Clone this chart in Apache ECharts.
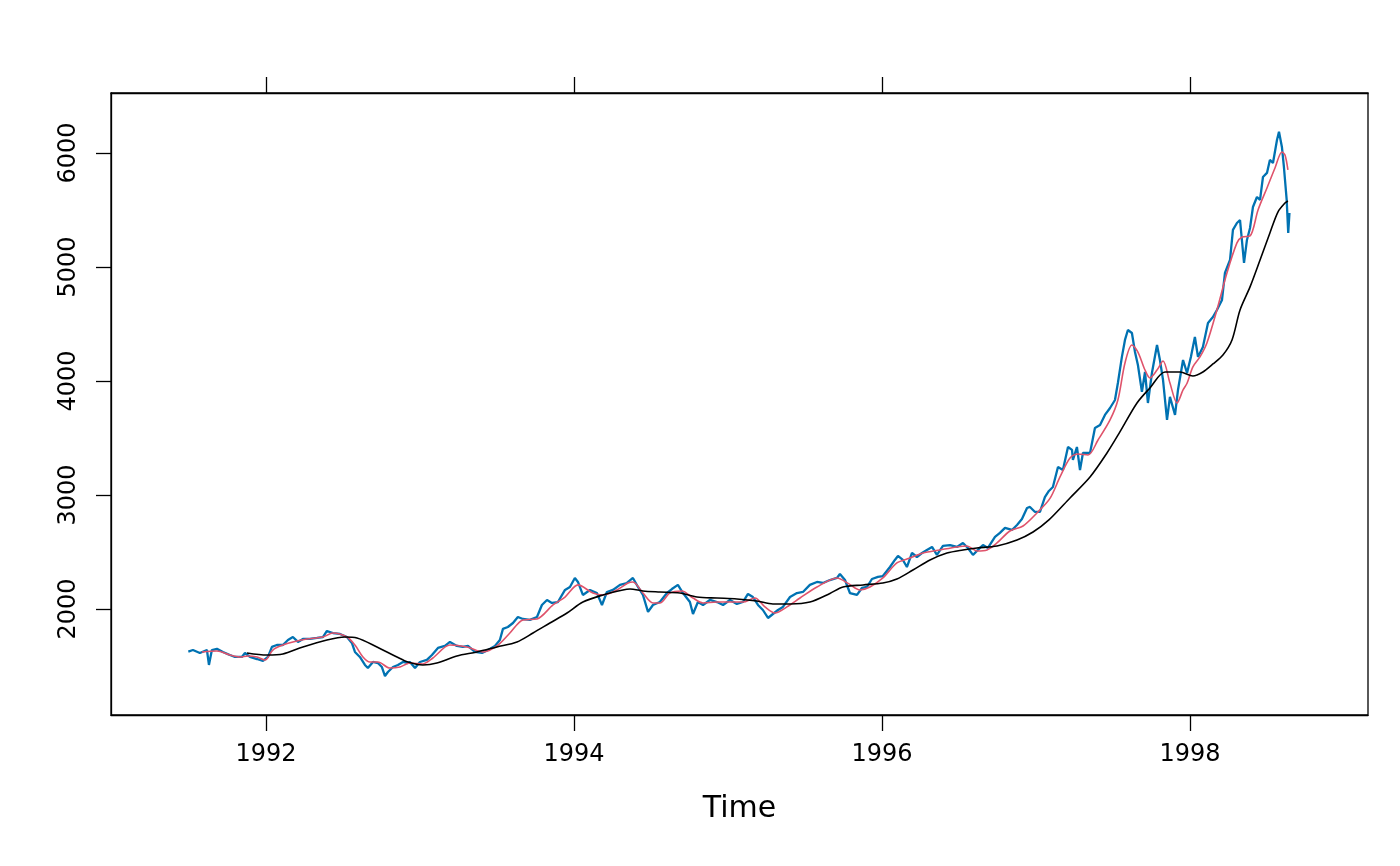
<!DOCTYPE html>
<html>
<head>
<meta charset="utf-8">
<script src="https://cdn.jsdelivr.net/npm/echarts@6/dist/echarts.min.js"></script>
<style>
html,body{margin:0;padding:0;background:#fff;}
#chart{width:1400px;height:866px;}
</style>
</head>
<body>
<div id="chart"></div>
<script>
// DAX closing prices
const daxTime = [1991.496,1991.526,1991.571,1991.617,1991.630,1991.649,1991.682,1991.721,1991.766,1991.799,1991.844,1991.864,1991.896,1991.942,1991.981,
1992.013,1992.039,1992.071,1992.110,1992.143,1992.175,1992.208,1992.240,1992.286,1992.331,1992.370,1992.396,1992.435,1992.481,1992.526,1992.558,1992.578,1992.610,1992.643,1992.662,1992.695,1992.727,1992.753,1992.773,1992.792,1992.825,1992.857,1992.890,1992.922,1992.935,1992.968,
1993.000,1993.045,1993.078,1993.117,1993.162,1993.195,1993.240,1993.279,1993.312,1993.357,1993.403,1993.442,1993.487,1993.519,1993.539,1993.571,1993.604,1993.636,1993.669,1993.714,1993.760,1993.792,1993.825,1993.857,1993.896,1993.942,1993.974,
1994.006,1994.026,1994.058,1994.104,1994.149,1994.182,1994.214,1994.253,1994.299,1994.344,1994.383,1994.416,1994.448,1994.481,1994.513,1994.558,1994.604,1994.636,1994.675,1994.708,1994.753,1994.773,1994.805,1994.838,1994.883,1994.929,1994.968,
1995.013,1995.058,1995.097,1995.130,1995.162,1995.195,1995.227,1995.260,1995.292,1995.325,1995.357,1995.403,1995.448,1995.487,1995.532,1995.578,1995.617,1995.662,1995.708,1995.727,1995.760,1995.792,1995.838,1995.870,1995.903,1995.935,1995.974,
1996.006,1996.052,1996.084,1996.104,1996.136,1996.162,1996.195,1996.227,1996.260,1996.292,1996.325,1996.357,1996.396,1996.442,1996.487,1996.526,1996.558,1996.591,1996.623,1996.656,1996.688,1996.734,1996.766,1996.799,1996.844,1996.877,1996.909,1996.942,1996.961,1996.994,
1997.026,1997.058,1997.084,1997.110,1997.143,1997.175,1997.208,1997.234,1997.240,1997.266,1997.286,1997.305,1997.351,1997.383,1997.416,1997.448,1997.481,1997.513,1997.532,1997.558,1997.578,1997.597,1997.623,1997.643,1997.662,1997.688,1997.708,1997.727,1997.753,1997.786,1997.805,1997.825,1997.851,1997.870,1997.903,1997.922,1997.955,1997.981,
1998.006,1998.032,1998.052,1998.084,1998.117,1998.149,1998.175,1998.208,1998.227,1998.260,1998.279,1998.305,1998.325,1998.351,1998.370,1998.390,1998.409,1998.435,1998.455,1998.474,1998.500,1998.519,1998.539,1998.565,1998.578,1998.597,1998.610,1998.628,1998.638,1998.646];
const daxValue = [1626,1640,1614,1640,1509,1640,1650,1623,1596,1579,1579,1614,1579,1561,1544,
1579,1667,1684,1684,1728,1754,1711,1737,1737,1746,1754,1807,1789,1781,1754,1702,1623,1579,1509,1482,1535,1526,1491,1412,1447,1491,1509,1535,1526,1535,1482,
1535,1553,1596,1658,1676,1711,1676,1667,1676,1623,1614,1640,1676,1728,1825,1842,1877,1930,1912,1904,1930,2035,2079,2053,2061,2167,2193,
2272,2237,2123,2167,2140,2035,2149,2167,2211,2228,2272,2193,2123,1974,2035,2061,2140,2175,2211,2140,2061,1956,2061,2035,2079,2061,2035,
2079,2044,2061,2132,2105,2035,1991,1921,1956,1991,2018,2105,2140,2149,2211,2237,2228,2254,2272,2307,2254,2140,2123,2184,2193,2263,2281,
2289,2368,2430,2465,2430,2368,2491,2456,2491,2518,2544,2474,2553,2561,2544,2579,2535,2474,2518,2561,2535,2632,2667,2711,2693,2737,2789,2886,2895,2851,
2851,2982,3035,3070,3246,3219,3421,3395,3307,3421,3219,3368,3368,3588,3614,3702,3763,3833,3982,4211,4360,4447,4421,4254,4140,3904,4079,3807,4070,4316,4184,4009,3658,3860,3702,3920,4184,4070,
4211,4386,4211,4298,4509,4561,4623,4711,4947,5061,5325,5386,5412,5035,5237,5342,5526,5614,5588,5789,5825,5939,5912,6114,6186,6053,5877,5588,5298,5474];

// Short moving average (red)
const fastTime = [1991.584,1991.682,1991.766,1991.831,1991.883,1991.942,1991.994,1992.045,1992.110,1992.175,1992.266,1992.370,1992.435,1992.526,1992.578,1992.630,1992.675,1992.727,1992.805,1992.870,1992.935,
1993.019,1993.084,1993.195,1993.305,1993.409,1993.500,1993.584,1993.669,1993.760,1993.864,1993.942,1994.026,1994.123,1994.188,1994.279,1994.351,1994.383,1994.448,1994.513,1994.558,1994.623,1994.701,1994.773,1994.838,1994.929,
1995.013,1995.097,1995.175,1995.240,1995.305,1995.383,1995.468,1995.578,1995.708,1995.786,1995.857,1995.922,1996.006,1996.097,1996.182,1996.266,1996.377,1996.487,1996.552,1996.617,1996.682,1996.747,1996.831,1996.916,
1997.006,1997.091,1997.156,1997.221,1997.273,1997.338,1997.403,1997.481,1997.532,1997.578,1997.623,1997.662,1997.708,1997.740,1997.786,1997.825,1997.870,1997.916,1997.955,1997.981,1998.019,1998.065,1998.110,1998.175,1998.240,1998.305,1998.338,1998.390,1998.442,1998.500,1998.552,1998.597,1998.617,1998.636];
const fastValue = [1623,1632,1596,1579,1588,1579,1553,1640,1684,1711,1737,1754,1789,1754,1684,1579,1535,1535,1482,1491,1526,
1518,1570,1684,1667,1623,1676,1789,1904,1912,2035,2105,2211,2140,2123,2167,2228,2237,2140,2053,2053,2140,2158,2096,2053,2061,
2061,2061,2096,2018,1965,2018,2096,2193,2272,2220,2167,2193,2272,2404,2447,2491,2518,2544,2553,2509,2518,2579,2684,2728,
2842,2970,3158,3325,3360,3351,3482,3658,3833,4158,4316,4254,4096,4026,4096,4175,3982,3807,3921,3980,4123,4211,4333,4623,4947,5211,5263,5272,5500,5693,5868,6009,5982,5851];

// Long moving average (black)
const slowTime = [1991.877,1992.006,1992.110,1992.240,1992.396,1992.513,1992.591,1992.721,1992.851,1992.922,
1993.019,1993.110,1993.240,1993.370,1993.500,1993.630,1993.734,1993.844,1993.955,1994.058,1994.188,1994.318,1994.364,1994.448,1994.558,1994.688,1994.799,1994.929,
1995.058,1995.188,1995.292,1995.403,1995.532,1995.662,1995.747,1995.877,1996.006,1996.097,1996.201,1996.312,1996.422,1996.526,1996.617,1996.747,1996.877,1996.981,
1997.084,1997.221,1997.351,1997.461,1997.545,1997.656,1997.740,1997.838,1997.935,1998.019,1998.084,1998.149,1998.214,1998.273,1998.325,1998.390,1998.455,1998.519,1998.571,1998.617,1998.636];
const slowValue = [1614,1596,1605,1667,1728,1754,1746,1667,1579,1535,
1509,1526,1588,1623,1667,1711,1789,1877,1965,2061,2123,2167,2175,2158,2149,2140,2105,2096,
2088,2070,2044,2044,2061,2136,2193,2211,2228,2263,2342,2430,2491,2518,2535,2553,2605,2675,
2781,2974,3158,3368,3553,3807,3939,4079,4079,4044,4079,4149,4228,4360,4623,4825,5061,5298,5482,5561,5579];

const xTicks = [1992, 1994, 1996, 1998];
const yTicks = [2000, 3000, 4000, 5000, 6000];

function pairs(t, v) { return t.map((x, i) => [x, v[i]]); }

const FONT = 'DejaVu Sans';
const chart = echarts.init(document.getElementById('chart'), null, {renderer: 'canvas'});
chart.setOption({
  animation: false,
  backgroundColor: '#ffffff',
  grid: {left: 111, right: 32, top: 93, bottom: 151, show: true, borderColor: '#000', borderWidth: 1.3, backgroundColor: 'transparent'},
  xAxis: [{
    type: 'value', min: 1990.994, max: 1999.156, position: 'bottom',
    name: 'Time', nameLocation: 'middle', nameGap: 79,
    nameTextStyle: {fontFamily: FONT, fontSize: 30, color: '#000'},
    axisLine: {show: true, lineStyle: {color: '#000', width: 1.3}},
    axisTick: {show: true, length: 16, lineStyle: {color: '#000', width: 1.3}, customValues: xTicks},
    axisLabel: {show: true, margin: 28, fontFamily: FONT, fontSize: 24, color: '#000', customValues: xTicks, formatter: v => String(v)},
    splitLine: {show: false}
  }, {
    type: 'value', min: 1990.994, max: 1999.156, position: 'top',
    axisLine: {show: true, lineStyle: {color: '#000', width: 1.3}},
    axisTick: {show: true, length: 16, lineStyle: {color: '#000', width: 1.3}, customValues: xTicks},
    axisLabel: {show: false, customValues: xTicks},
    splitLine: {show: false}
  }],
  yAxis: [{
    type: 'value', min: 1070, max: 6526, position: 'left',
    axisLine: {show: true, lineStyle: {color: '#000', width: 1.3}},
    axisTick: {show: true, length: 15, lineStyle: {color: '#000', width: 1.3}, customValues: yTicks},
    axisLabel: {show: true, rotate: 90, margin: 30, fontFamily: FONT, fontSize: 24, color: '#000', customValues: yTicks, formatter: v => String(v)},
    splitLine: {show: false}
  }],
  series: [{
    type: 'line', xAxisIndex: 0, yAxisIndex: 0, data: pairs(daxTime, daxValue),
    showSymbol: false, symbol: 'none', lineStyle: {color: '#0072B2', width: 2.3}, z: 2
  }, {
    type: 'line', xAxisIndex: 0, yAxisIndex: 0, data: pairs(fastTime, fastValue), smooth: 0.3,
    showSymbol: false, symbol: 'none', lineStyle: {color: '#DF536B', width: 1.6}, z: 3
  }, {
    type: 'line', xAxisIndex: 0, yAxisIndex: 0, data: pairs(slowTime, slowValue), smooth: 0.3,
    showSymbol: false, symbol: 'none', lineStyle: {color: '#000000', width: 1.6}, z: 4
  }]
});
</script>
</body>
</html>
